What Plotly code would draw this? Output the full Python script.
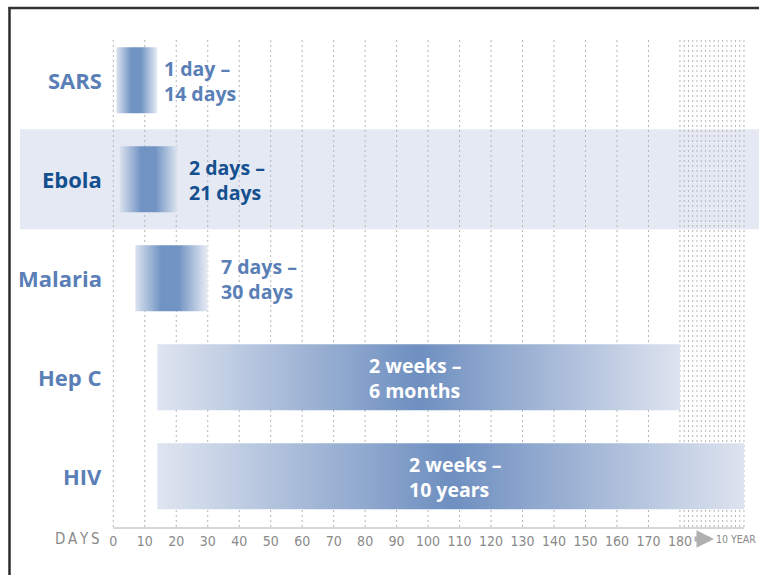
import plotly.graph_objects as go

# ---------------- data ----------------
diseases = ["SARS", "Ebola", "Malaria", "Hep C", "HIV"]
start_days = [1, 2, 7, 14, 14]
end_days = [14, 21, 30, 180, 3650]
range_line1 = ["1 day –", "2 days –", "7 days –", "2 weeks –", "2 weeks –"]
range_line2 = ["14 days", "21 days", "30 days", "6 months", "10 years"]
day_ticks = list(range(0, 190, 10))
tick_labels = [str(t) for t in day_ticks]
highlight = "Ebola"
long_end_label = "10 YEAR"

# ---------------- scale helpers ----------------
W, H = 759, 575
PLOT_BOTTOM = 531          # px
PX0, PPD = 113.3, 3.148    # px of day 0, px per day
ROW0, ROWSTEP = 80.3, 99.0
LIN_MAX, COMP_MAX_DAYS, COMP_SPAN = 180, 3650, 20.35


def to_axis(d):
    if d <= LIN_MAX:
        return d
    return LIN_MAX + (d - LIN_MAX) / (COMP_MAX_DAYS - LIN_MAX) * COMP_SPAN


def px_x(px):
    return (px - PX0) / PPD


def py_y(py):
    return (py - ROW0) / ROWSTEP


def py_paper(py):
    return (PLOT_BOTTOM - py) / PLOT_BOTTOM


BLUE = "#5a7fb7"
DARK = "#14508f"
GRID = "#b5b5b5"
GRAY_TXT = "#8a8a8a"
LABEL_FONT = "Open Sans"
NARROW = "Liberation Sans Narrow, DejaVu Sans Condensed, Liberation Sans"

fig = go.Figure()

# ---------------- grid lines ----------------
gx, gy = [], []
y_top, y_axis = py_y(40), py_y(528)
for t in day_ticks[:-1]:
    gx += [t, t, None]
    gy += [y_top, y_axis, None]
n_dense = 16
for k in range(n_dense):
    xv = LIN_MAX + k * COMP_SPAN / (n_dense - 1)
    gx += [xv, xv, None]
    gy += [y_top, y_axis, None]
fig.add_trace(go.Scatter(x=gx, y=gy, mode="lines",
                         line=dict(color=GRID, width=1, dash="2px,3px"),
                         hoverinfo="skip", showlegend=False))

# ---------------- bars ----------------
half = 33 / ROWSTEP
short_cs = [[0, "#dbe2ef"], [0.36, "#7093c3"], [0.6, "#7194c3"], [1, "#e8ecf5"]]
long_cs = [[0, "#dfe5f0"], [0.5, "#6e8fc0"], [1, "#dde3ef"]]
for i, (s, e) in enumerate(zip(start_days, end_days)):
    x0, x1 = to_axis(s), to_axis(e)
    cs = long_cs if e > 60 else short_cs
    fig.add_trace(go.Scatter(
        x=[x0, x1, x1, x0, x0], y=[i - half, i - half, i + half, i + half, i - half],
        mode="lines", fill="toself", line=dict(width=0, color="rgba(0,0,0,0)"),
        fillgradient=dict(type="horizontal", colorscale=cs),
        hoverinfo="skip", showlegend=False))

annotations = []
# disease labels and range labels
short_shift = [5, 8, 11, 0, 0]
long_shift = [0, 0, 0, -52, -44]
RANGE_SIZE = 19.5
for i, name in enumerate(diseases):
    col = DARK if name == highlight else BLUE
    annotations.append(dict(x=px_x(104), y=i, xref="x", yref="y", text=f"<b>{name}</b>",
                            showarrow=False, xanchor="right", yanchor="middle",
                            font=dict(family=LABEL_FONT, size=22, color=col)))
    if end_days[i] > 60:
        xc = (to_axis(start_days[i]) + to_axis(end_days[i])) / 2
        x_pos, shift, tcol = xc, long_shift[i], "white"
    else:
        x_pos, shift, tcol = to_axis(end_days[i]), short_shift[i], col
    annotations.append(dict(x=x_pos, y=i, xref="x", yref="y",
                            text=f"<b>{range_line1[i]}</b><br><b>{range_line2[i]}</b>",
                            showarrow=False, xanchor="left", yanchor="middle", align="left",
                            xshift=shift, yshift=-1,
                            font=dict(family=LABEL_FONT, size=RANGE_SIZE, color=tcol)))

# axis extras
annotations.append(dict(x=px_x(102), y=py_paper(539), xref="x", yref="paper",
                        text="D\u2009A\u2009Y\u2009S", showarrow=False, xanchor="right",
                        yanchor="middle", font=dict(family=NARROW, size=15, color=GRAY_TXT)))
annotations.append(dict(x=px_x(714), y=py_paper(539), xref="x", yref="paper", text="",
                        showarrow=True, ax=-21, ay=0, arrowcolor="#b0b0b0",
                        arrowwidth=5, arrowhead=2, arrowsize=0.7))
annotations.append(dict(x=px_x(714), y=py_paper(539), xref="x", yref="paper",
                        text=long_end_label, showarrow=False, xanchor="left",
                        yanchor="middle", font=dict(family=NARROW, size=10.5, color=GRAY_TXT)))

shapes = [
    # highlighted row band
    dict(type="rect", xref="x", yref="y", x0=px_x(20), x1=px_x(770),
         y0=diseases.index(highlight) - 0.505, y1=diseases.index(highlight) + 0.505,
         fillcolor="#e5e9f4", line=dict(width=0), layer="below"),
    # axis line
    dict(type="line", xref="x", yref="y", x0=0, x1=to_axis(COMP_MAX_DAYS),
         y0=py_y(528), y1=py_y(528), line=dict(color="#d6d6d6", width=2)),
    # frame
    dict(type="line", xref="paper", yref="paper", x0=9.5 / W, x1=9.5 / W,
         y0=py_paper(585), y1=py_paper(7), line=dict(color="#2b2b2b", width=2.5)),
    dict(type="line", xref="paper", yref="paper", x0=8.5 / W, x1=1.02,
         y0=py_paper(8), y1=py_paper(8), line=dict(color="#333333", width=2.5)),
]

fig.update_layout(
    width=W, height=H,
    margin=dict(l=0, r=0, t=0, b=H - PLOT_BOTTOM),
    paper_bgcolor="white", plot_bgcolor="white",
    showlegend=False,
    xaxis=dict(range=[px_x(0), px_x(W)], tickvals=day_ticks, ticktext=tick_labels,
               showgrid=False, zeroline=False, showline=False, ticks="",
               tickfont=dict(family=NARROW, size=14, color=GRAY_TXT), fixedrange=True),
    yaxis=dict(range=[py_y(PLOT_BOTTOM), py_y(0)], showgrid=False, zeroline=False,
               showticklabels=False, showline=False, fixedrange=True),
    annotations=annotations, shapes=shapes,
)

fig.write_html("out.html")
